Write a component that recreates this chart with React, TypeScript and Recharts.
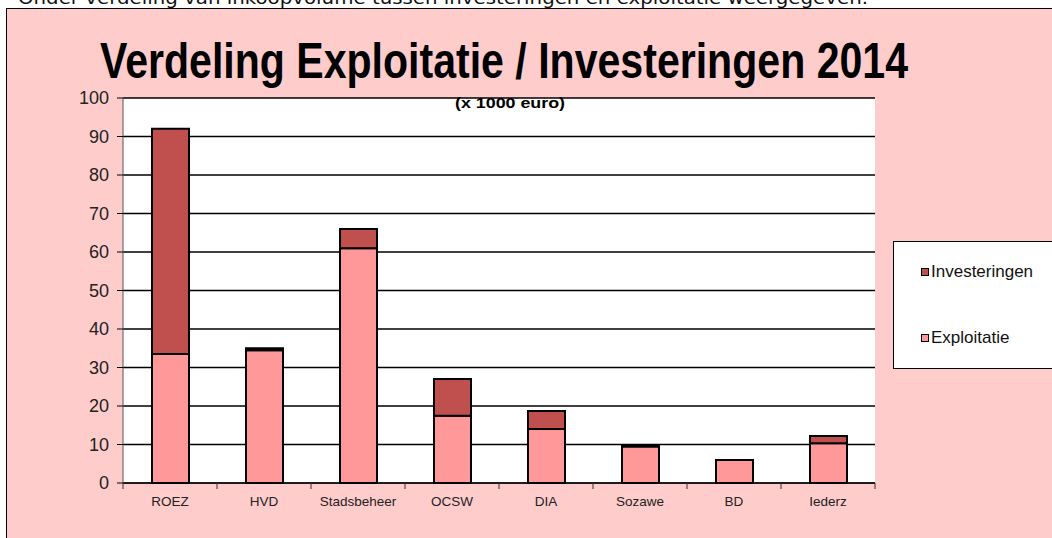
import React from 'react';
import { BarChart, Bar, XAxis, YAxis, CartesianGrid } from 'recharts';

const categories = ['ROEZ', 'HVD', 'Stadsbeheer', 'OCSW', 'DIA', 'Sozawe', 'BD', 'Iederz'];
const exploitatie = [33.5, 34.5, 61, 17.5, 14, 9.5, 6, 10.3];
const investeringen = [58.5, 0.5, 5, 9.5, 4.7, 0.3, 0, 1.9];
const yTicks = [0, 10, 20, 30, 40, 50, 60, 70, 80, 90, 100];

const data = categories.map((name, i) => ({
  name,
  Exploitatie: exploitatie[i],
  Investeringen: investeringen[i],
}));

const W = 1052;
const H = 538;
const PLOT_LEFT = 123;
const PLOT_RIGHT = 875;
const BAND = (PLOT_RIGHT - PLOT_LEFT) / categories.length;
const FONT = '"Liberation Sans Narrow", "Arial Narrow", "Liberation Sans", Arial, sans-serif';

const CategoryTick = (props: any) => {
  const { x, y, payload, index } = props;
  const half = BAND / 2;
  return (
    <g>
      <line x1={x - half} x2={x - half} y1={y} y2={y + 6} stroke="#333" />
      {index === categories.length - 1 && (
        <line x1={x + half} x2={x + half} y1={y} y2={y + 6} stroke="#333" />
      )}
      <text x={x} y={y + 23} textAnchor="middle" fontSize={13.5} fontFamily={FONT} fill="#222">
        {payload.value}
      </text>
    </g>
  );
};

const legendItems = [
  { label: 'Investeringen', color: '#C0504D', top: 20 },
  { label: 'Exploitatie', color: '#FF9999', top: 86 },
];

export default function App() {
  return (
    <div style={{ position: 'absolute', left: 0, top: 0, width: W, height: H, background: '#fff', overflow: 'hidden' }}>
      <svg width={W} height={12} style={{ position: 'absolute', left: 0, top: 0 }}>
        <text x={18} y={4} fontSize={18} fontFamily='"DejaVu Sans", sans-serif' fill="#111" textLength={850} lengthAdjust="spacingAndGlyphs">
          Onder verdeling van inkoopvolume tussen investeringen en exploitatie weergegeven.
        </text>
      </svg>
      <div
        style={{
          position: 'absolute',
          left: 6,
          top: 8,
          width: W - 6,
          height: H - 8,
          background: '#FFCCCC',
          borderLeft: '1.5px solid #000',
          borderTop: '1.5px solid #000',
          boxSizing: 'border-box',
        }}
      />
      <div style={{ position: 'absolute', left: 0, top: 0 }}>
        <BarChart
          width={W}
          height={H}
          data={data}
          margin={{ top: 98, right: W - PLOT_RIGHT, bottom: 25, left: 0 }}
          barSize={37}
        >
          <CartesianGrid horizontal vertical={false} stroke="#000" strokeWidth={1.5} fill="#fff" fillOpacity={1} />
          <XAxis
            dataKey="name"
            height={30}
            tickLine={false}
            tickSize={0}
            tickMargin={0}
            axisLine={{ stroke: '#000' }}
            tick={<CategoryTick />}
            interval={0}
          />
          <YAxis
            width={PLOT_LEFT}
            domain={[0, 100]}
            ticks={yTicks}
            interval={0}
            tickSize={6}
            tickMargin={8}
            tickLine={{ stroke: '#000' }}
            axisLine={{ stroke: '#555' }}
            tick={{ fontSize: 18, fontFamily: FONT, fill: '#222' }}
          />
          <Bar dataKey="Exploitatie" stackId="a" fill="#FF9999" stroke="#000" strokeWidth={2} isAnimationActive={false} />
          <Bar dataKey="Investeringen" stackId="a" fill="#C0504D" stroke="#000" strokeWidth={2} isAnimationActive={false} />
        </BarChart>
      </div>
      <div
        style={{
          position: 'absolute',
          left: 893,
          top: 241,
          width: 170,
          height: 126,
          background: '#fff',
          border: '1.5px solid #000',
          fontFamily: FONT,
          fontSize: 17,
          color: '#111',
        }}
      >
        {legendItems.map((it) => (
          <div key={it.label} style={{ position: 'absolute', left: 27, top: it.top, display: 'flex', alignItems: 'center' }}>
            <span
              style={{
                display: 'inline-block',
                width: 6,
                height: 6,
                background: it.color,
                border: '1.5px solid #000',
                marginRight: 2,
              }}
            />
            <span>{it.label}</span>
          </div>
        ))}
      </div>
      <svg width={W} height={H} style={{ position: 'absolute', left: 0, top: 0, pointerEvents: 'none' }}>
        <text
          x={100}
          y={78}
          fontSize={50}
          fontWeight="bold"
          fontFamily={FONT}
          fill="#000"
          textLength={808}
          lengthAdjust="spacingAndGlyphs"
        >
          Verdeling Exploitatie / Investeringen 2014
        </text>
        <text
          x={455}
          y={108}
          fontSize={14}
          fontWeight="bold"
          fontFamily={FONT}
          fill="#000"
          textLength={110}
          lengthAdjust="spacingAndGlyphs"
        >
          (x 1000 euro)
        </text>
      </svg>
    </div>
  );
}
